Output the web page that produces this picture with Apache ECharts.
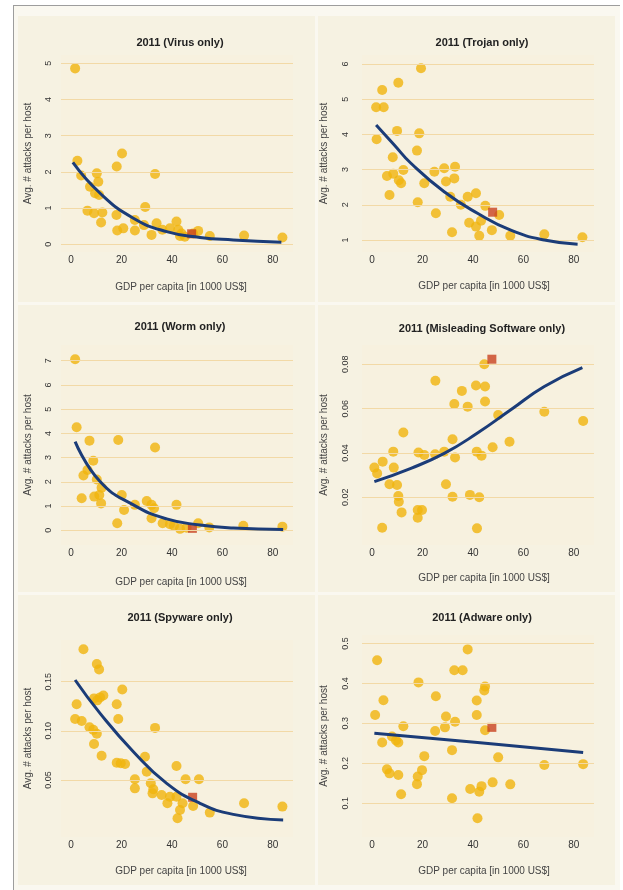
<!DOCTYPE html>
<html>
<head>
<meta charset="utf-8">
<script src="https://cdn.jsdelivr.net/npm/echarts@6/dist/echarts.min.js"></script>
<style>
  html, body { margin: 0; padding: 0; background: #fff; }
  #wrap { position: relative; width: 623px; height: 890px; overflow: hidden; }
  .frame { position: absolute; left: 13px; top: 5px; width: 606px; height: 890px;
           border-top: 1px solid #9d9d9d; border-left: 1px solid #9d9d9d; background: #faf8f0; }
  .panel { position: absolute; background: #f6f2e2; }
  #chart { position: absolute; left: 0; top: 0; width: 623px; height: 890px; }
</style>
</head>
<body>
<div id="wrap">
  <div class="frame"></div>
  <div class="panel" style="left:18px;top:16px;width:297px;height:286px"></div>
  <div class="panel" style="left:318px;top:16px;width:297px;height:286px"></div>
  <div class="panel" style="left:18px;top:305px;width:297px;height:287px"></div>
  <div class="panel" style="left:318px;top:305px;width:297px;height:287px"></div>
  <div class="panel" style="left:18px;top:595px;width:297px;height:290px"></div>
  <div class="panel" style="left:318px;top:595px;width:297px;height:290px"></div>
  <div id="chart"></div>
</div>
<script>
// values: [GDP per capita (1000 US$), avg attacks per host]
var titles = ['2011 (Virus only)', '2011 (Trojan only)', '2011 (Worm only)',
              '2011 (Misleading Software only)', '2011 (Spyware only)', '2011 (Adware only)'];
var xTicks = [0, 20, 40, 60, 80];
var yTicks = [
  [0, 1, 2, 3, 4, 5],
  [1, 2, 3, 4, 5, 6],
  [0, 1, 2, 3, 4, 5, 6, 7],
  [0.02, 0.04, 0.06, 0.08],
  [0.05, 0.10, 0.15],
  [0.1, 0.2, 0.3, 0.4, 0.5]
];
var yDecimals = [0, 0, 0, 2, 2, 1];

var virusPts = [[1.6,4.86],[2.5,2.31],[4.0,1.90],[10.2,1.96],[10.8,1.73],[7.5,1.59],[9.5,1.41],[11.1,1.36],
  [6.5,0.93],[9.1,0.86],[11.9,0.60],[12.4,0.88],[18.1,2.15],[20.2,2.51],[18,0.81],[18.3,0.38],[20.7,0.44],
  [25.3,0.38],[25.3,0.67],[29.4,1.03],[28.9,0.53],[33.3,1.94],[31.9,0.26],[33.9,0.58],[36.2,0.40],[39.2,0.44],
  [41.8,0.63],[42.5,0.40],[43.2,0.23],[43.8,0.30],[45.1,0.21],[48.4,0.30],[50.4,0.37],[55,0.23],[68.6,0.24],[83.8,0.19]];
var virusFit = [[0.7,2.26],[11.5,1.41],[24.7,0.72],[37.9,0.35],[51.1,0.19],[64.3,0.12],[83.4,0.055]];
var virusMark = [[47.8,0.29]];

var trojanPts = [[19.4,5.88],[10.4,5.47],[4,5.26],[1.6,4.77],[4.6,4.77],[1.8,3.86],[9.9,4.10],[18.7,4.03],
  [17.8,3.54],[8.2,3.35],[5.9,2.82],[8.4,2.88],[10.6,2.70],[12.4,2.99],[11.5,2.61],[6.9,2.28],[18.1,2.07],
  [20.7,2.61],[25.3,1.76],[24.7,2.94],[28.6,3.04],[29.3,2.66],[32.6,2.75],[32.9,3.08],[31,2.23],[31.7,1.22],
  [35.2,2.0],[37.9,2.23],[38.5,1.49],[41.2,2.33],[41.2,1.38],[43.2,1.55],[42.5,1.12],[44.9,1.97],[47.5,1.28],
  [50.4,1.71],[54.8,1.12],[68.3,1.16],[83.4,1.08]];
var trojanFit = [[1.6,4.27],[8.8,3.70],[15.4,3.18],[28.6,2.37],[41.8,1.76],[55,1.28],[68.3,1.0],[81.5,0.88]];
var trojanMark = [[47.8,1.79]];

var wormPts = [[1.6,7.06],[2.2,4.25],[7.3,3.70],[18.7,3.73],[33.3,3.42],[8.8,2.87],[6.5,2.49],[4.9,2.26],
  [10.2,2.10],[12.1,1.76],[4.2,1.32],[9.2,1.39],[11.2,1.46],[11.9,1.11],[20.1,1.46],[21,0.84],[18.3,0.29],
  [25.3,1.05],[30,1.21],[31.9,1.05],[32.9,0.91],[31.9,0.50],[36.3,0.29],[39.2,0.25],[41.8,1.05],[40.8,0.19],
  [43.2,0.06],[45.8,0.11],[50.4,0.29],[54.8,0.12],[68.3,0.19],[83.8,0.15]];
var wormFit = [[1.6,3.66],[11.5,2.01],[24.7,1.05],[37.9,0.47],[51.1,0.22],[64.3,0.09],[84.1,0.03]];
var wormMark = [[48.1,0.08]];

var misleadPts = [[44.5,0.080],[25.1,0.0726],[35.6,0.068],[41.2,0.0704],[44.8,0.070],[32.6,0.0621],
  [37.9,0.0609],[44.8,0.0632],[50,0.0571],[68.3,0.0586],[83.7,0.0544],[12.4,0.0492],[31.9,0.0462],
  [54.5,0.0451],[47.8,0.0426],[8.4,0.0406],[18.4,0.0402],[20.7,0.0391],[25,0.0394],[28.6,0.0406],
  [32.9,0.038],[41.5,0.0406],[43.4,0.0388],[4.2,0.0361],[0.9,0.0334],[8.6,0.0334],[2,0.0308],[6.9,0.0259],
  [9.9,0.0256],[29.3,0.0259],[10.4,0.0206],[10.6,0.018],[11.7,0.0132],[18.1,0.0143],[19.8,0.0143],
  [18.1,0.0108],[31.9,0.0203],[38.8,0.0211],[42.5,0.020],[4,0.0063],[41.6,0.006]];
var misleadFit = [[0.9,0.0271],[15.4,0.0331],[28.6,0.0398],[41.8,0.0490],[55,0.0595],[68.3,0.0700],[83.4,0.0785]];
var misleadMark = [[47.5,0.0823]];

var spyPts = [[4.9,0.183],[10.2,0.168],[11.1,0.1625],[20.3,0.142],[2.2,0.127],[9.1,0.133],[10.4,0.131],
  [11.5,0.134],[12.8,0.136],[18.1,0.127],[1.6,0.112],[4.2,0.110],[7.3,0.1036],[8.8,0.101],[10.2,0.097],
  [9.1,0.0866],[12.1,0.0747],[18.7,0.112],[33.3,0.103],[18.1,0.0676],[19.7,0.067],[21.4,0.0663],[29.3,0.0737],
  [30,0.0585],[25.3,0.0507],[25.3,0.0415],[31.6,0.0466],[32.6,0.0405],[32.3,0.0364],[35.9,0.0347],[38.2,0.0263],
  [39.2,0.033],[41.8,0.0642],[41.8,0.033],[44.2,0.0263],[43.2,0.0195],[42.2,0.011],[45.4,0.0507],[48.4,0.0236],
  [50.7,0.0507],[55.0,0.0168],[68.6,0.0263],[83.8,0.0229]];
var spyFit = [[1.6,0.1517],[11.5,0.1178],[24.7,0.0788],[37.9,0.0466],[51.1,0.0263],[64.3,0.0150],[84.1,0.0093]];
var spyMark = [[48.2,0.0324]];

var adPts = [[37.9,0.485],[2,0.458],[32.6,0.433],[35.9,0.433],[18.4,0.4025],[44.8,0.392],[44.5,0.382],
  [25.3,0.368],[4.5,0.358],[41.5,0.357],[1.2,0.321],[41.5,0.321],[29.3,0.317],[32.9,0.304],[12.4,0.293],
  [28.9,0.29],[25,0.281],[44.8,0.283],[7.9,0.267],[9.5,0.257],[4,0.252],[10.4,0.252],[31.7,0.233],[20.7,0.218],
  [50,0.215],[68.3,0.196],[83.7,0.198],[5.9,0.185],[6.9,0.175],[10.4,0.171],[19.8,0.183],[18.1,0.167],
  [17.8,0.148],[47.8,0.1525],[54.8,0.1475],[43.4,0.143],[42.5,0.129],[38.9,0.136],[11.5,0.1225],[31.7,0.1125],
  [41.8,0.0625]];
var adFit = [[0.9,0.275],[41.8,0.252],[83.7,0.227]];
var adMark = [[47.5,0.29]];

var points = [virusPts, trojanPts, wormPts, misleadPts, spyPts, adPts];
var fits = [virusFit, trojanFit, wormFit, misleadFit, spyFit, adFit];
var marks = [virusMark, trojanMark, wormMark, misleadMark, spyMark, adMark];

// panel layout: plot boxes, axis ranges, text positions
var layout = [
  { left: 61,  top: 55,  height: 197, ymin: -0.213, ymax: 5.23,  split: 5, titleX: 180, titleY: 37,  nameGap: 30 },
  { left: 362, top: 55,  height: 197, ymin: 0.659,  ymax: 6.256, split: 5, titleX: 482, titleY: 37,  nameGap: 29 },
  { left: 61,  top: 345, height: 200, ymin: -0.607, ymax: 7.648, split: 8, titleX: 180, titleY: 321, nameGap: 32 },
  { left: 362, top: 345, height: 200, ymin: -0.0015, ymax: 0.0887, split: 5, titleX: 482, titleY: 323, nameGap: 28 },
  { left: 61,  top: 640, height: 197, ymin: -0.008, ymax: 0.1924, split: 5, titleX: 180, titleY: 612, nameGap: 29 },
  { left: 362, top: 635, height: 202, ymin: 0.0158, ymax: 0.521, split: 5, titleX: 482, titleY: 612, nameGap: 29 }
];

var FONT = 'Liberation Sans, Arial, sans-serif';
var grids = [], xAxes = [], yAxes = [], series = [], titleList = [];

layout.forEach(function (p, i) {
  var rightCol = i % 2 === 1;
  grids.push({
    left: p.left, top: p.top, width: 232, height: p.height,
    show: true, backgroundColor: '#f7f1df', borderWidth: 0
  });
  titleList.push({
    text: titles[i], left: p.titleX, top: p.titleY, textAlign: 'center', padding: 0,
    textStyle: { fontFamily: FONT, fontSize: 11, fontWeight: 'bold', color: '#222' }
  });
  xAxes.push({
    type: 'value', gridIndex: i, min: -4, max: 88,
    name: 'GDP per capita [in 1000 US$]', nameLocation: 'middle', nameGap: p.nameGap,
    nameTextStyle: { fontFamily: FONT, fontSize: 10, color: '#444', padding: [0, 0, 0, rightCol ? 12 : 8] },
    axisLine: { show: false }, axisTick: { show: false }, splitLine: { show: false },
    axisLabel: {
      margin: 3, fontFamily: FONT, fontSize: 10, color: '#333',
      formatter: function (v) { return xTicks.indexOf(Math.round(v)) >= 0 && Math.abs(v - Math.round(v)) < 1e-6 ? String(Math.round(v)) : ''; }
    }
  });
  yAxes.push({
    type: 'value', gridIndex: i, min: p.ymin, max: p.ymax, splitNumber: p.split,
    name: 'Avg. # attacks per host', nameLocation: 'middle', nameGap: rightCol ? 33 : 28,
    nameTextStyle: { fontFamily: FONT, fontSize: 10, color: '#444' },
    axisLine: { show: false }, axisTick: { show: false }, splitLine: { show: false },
    axisLabel: {
      rotate: 90, margin: rightCol ? 12 : 8, fontFamily: FONT, fontSize: 9, color: '#333',
      formatter: function (v) {
        var hit = yTicks[i].some(function (t) { return Math.abs(t - v) < 1e-9; });
        return hit ? v.toFixed(yDecimals[i]) : '';
      }
    }
  });
  // horizontal guide lines at the tick values
  series.push({
    type: 'scatter', xAxisIndex: i, yAxisIndex: i, data: [], silent: true, z: 1,
    markLine: {
      silent: true, symbol: 'none', animation: false, label: { show: false },
      lineStyle: { color: '#f2d9a6', width: 1, type: 'solid' },
      emphasis: { disabled: true },
      data: yTicks[i].map(function (t) { return { yAxis: t }; })
    }
  });
  series.push({
    type: 'scatter', xAxisIndex: i, yAxisIndex: i, data: points[i],
    symbolSize: 10, itemStyle: { color: '#f0b40c' }, z: 3
  });
  series.push({
    type: 'scatter', xAxisIndex: i, yAxisIndex: i, data: marks[i],
    symbol: 'rect', symbolSize: 9, itemStyle: { color: '#c8421f' }, z: 4
  });
  series.push({
    type: 'line', xAxisIndex: i, yAxisIndex: i, data: fits[i], smooth: true,
    showSymbol: false, lineStyle: { color: '#1b3c78', width: 3 }, z: 5
  });
});

var myChart = echarts.init(document.getElementById('chart'));
myChart.setOption({
  animation: false,
  title: titleList,
  grid: grids,
  xAxis: xAxes,
  yAxis: yAxes,
  series: series
});
</script>
</body>
</html>
